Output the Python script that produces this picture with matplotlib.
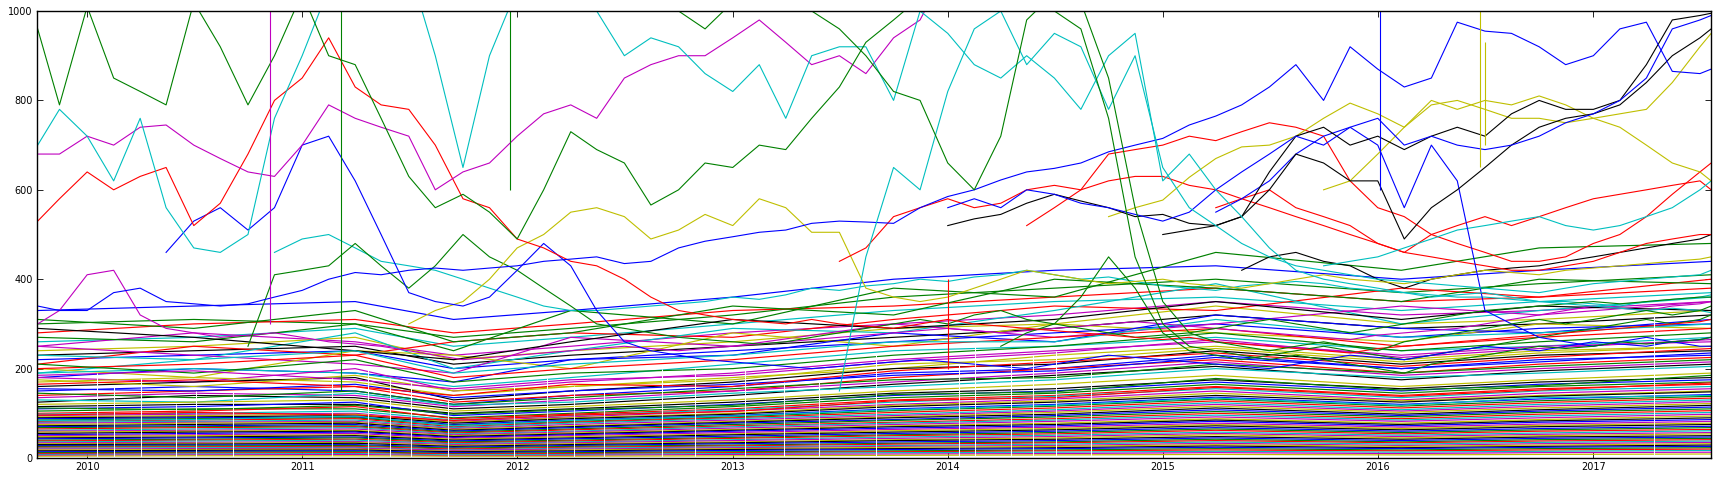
import numpy as np
import pandas as pd
import matplotlib
matplotlib.use("Agg")
import matplotlib.pyplot as plt
import matplotlib.dates as mdates

nan = np.nan

# knots every ~6 weeks for the prominent (high priced) series
grid_dates = pd.to_datetime(
    ["2009-10-09", "2009-11-15"]
    + [f"{y}-{md}" for y in range(2010, 2018)
       for md in ("01-01", "02-15", "04-01", "05-15", "07-01", "08-15", "10-01", "11-15")][:61]
    + ["2017-07-20"])

green_a = [960, 790, 1010, 850, 820, 790, 1020, 920,
           790, 900, 1040, 900, 880, 760, 630, 560,
           590, 550, 490, 600, 730, 690, 660, 566,
           600, 660, 650, 700, 690, 760, 830, 930,
           980, 1030, 1050, 1050, 1040, 1020, 1000, 960,
           760, 450, 300, 250, 240, 230, 220, 230,
           220, 210, 200, 190, 210, 220, 230, 240,
           250, 245, 250, 260, 255, 260, 265, 270]
green_w = [nan, nan, nan, nan, nan, nan, nan, nan,
           250, 410, 420, 430, 480, 430, 380, 430,
           500, 450, 420, 380, 340, 300, 290, 280,
           270, 265, 260, 255, 260, 270, 280, 290,
           300, 310, 300, 320, 330, 310, 300, 290,
           280, 270, 275, 280, 290, 300, 310, 300,
           290, 280, 290, 300, 310, 320, 330, 335,
           340, 345, 350, 345, 350, 355, 360, 360]
green_c = [nan] * 16 + [1100, 1100, 1100, 1100, 1100, 1100, 1080, 1050,
                        1000, 960, 1020, 1080, 1060, 1000, 960, 900,
                        820, 800, 660, 600, 720, 980, 1040, 1020,
                        850, 560, 350, 280, 260, 250, 240, 250,
                        260, 250, 240, 260, 270, 280, 290, 300,
                        310, 300, 310, 320, 330, 320, 330, 340]
green_d = [nan] * 36 + [250, 280, 300, 360, 450, 380, 280, 240,
                        230, 220, 230, 240, 250, 240, 230, 220,
                        230, 240, 250, 260, 270, 280, 290, 300,
                        310, 300, 310, 320]
cyan_a = [700, 780, 720, 620, 760, 560, 470, 460,
          500, 760, 900, 1050, 1100, 1100, 1100, 900,
          650, 900, 1050, 1100, 1100, 1000, 900, 940,
          920, 860, 820, 880, 760, 900, 920, 920,
          800, 1000, 950, 880, 850, 900, 850, 780,
          900, 950, 620, 680, 600, 540, 470, 420,
          400, 390, 380, 370, 360, 365, 370, 360,
          350, 345, 340, 335, 330, 335, 330, 325]
cyan_b = [nan] * 30 + [150, 450, 650, 600, 820, 960, 1000, 880,
                       950, 920, 780, 900, 650, 560, 520, 480,
                       450, 430, 420, 410, 400, 395, 390, 385,
                       380, 375, 370, 380, 390, 395, 400, 405,
                       410, 420]
cyan_c = [nan] * 9 + [460, 490, 500, 470, 440, 430, 420,
                      400, 380, 360, 340, 330, 330, 335, 340,
                      345, 350, 360, 355, 365, 380, 375, 385,
                      390, 400, 395, 405, 410, 420, 410, 400,
                      405, 395, 385, 380, 375, 385, 390, 395,
                      390, 380, 375, 370, 365, 360, 360, 355,
                      350, 350, 345, 340, 350, 355, 360, 365]
cyan_d = [nan] * 48 + [430, 440, 450, 470, 490, 510, 520, 530,
                       540, 520, 510, 520, 540, 560, 600, 620]
red_a = [530, 580, 640, 600, 630, 650, 520, 570,
         680, 800, 850, 940, 830, 790, 780, 700,
         580, 560, 490, 470, 440, 430, 400, 360,
         330, 320, 310, 305, 300, 310, 300, 295,
         290, 300, 310, 300, 295, 290, 285, 280,
         275, 270, 265, 270, 260, 255, 250, 245,
         240, 235, 245, 250, 255, 260, 265, 270,
         275, 280, 285, 290, 295, 300, 305, 310]
red_b = [nan] * 37 + [520, 560, 600, 680, 690, 700, 720, 710,
                      730, 750, 740, 720, 620, 560, 540, 500,
                      480, 460, 440, 440, 450, 480, 500, 540,
                      590, 640, 660]
red_c = [nan] * 30 + [440, 470, 540, 560, 580, 560, 570, 600,
                      610, 600, 620, 630, 630, 610, 600, 580,
                      560, 540, 520, 500, 480, 460, 450, 440,
                      430, 420, 420, 430, 440, 460, 480, 490,
                      500, 500]
red_d = [nan] * 44 + [560, 580, 600, 560, 540, 520, 480, 460,
                      500, 520, 540, 520, 540, 560, 580, 590,
                      600, 610, 620, 600]
magenta_a = [680, 680, 720, 700, 740, 745, 700, 670,
             640, 630, 700, 790, 760, 740, 720, 600,
             640, 660, 720, 770, 790, 760, 850, 880,
             900, 900, 940, 980, 930, 880, 900, 860,
             940, 980, 1100] + [1200] * 29
magenta_b = [300, 330, 410, 420, 320, 290, 280, 270,
             275, 280, 270, 260, 255, 250, 240, 230,
             220, 225, 230, 235, 240, 245, 250, 245,
             240, 245, 250, 255, 260, 265, 270, 275,
             280, 285, 290, 285, 280, 285, 290, 295,
             300, 305, 300, 295, 290, 285, 280, 275,
             270, 265, 275, 280, 285, 290, 300, 310,
             320, 330, 340, 335, 330, 340, 345, 350]
blue_a = [nan, nan, nan, nan, nan, 460, 530, 560,
          510, 560, 700, 720, 620, 500, 370, 350,
          340, 360, 420, 480, 430, 330, 260, 240,
          230, 220, 215, 210, 205, 200, 205, 210,
          215, 220, 215, 210, 205, 200, 210, 220,
          230, 225, 220, 215, 210, 205, 200, 210,
          220, 230, 225, 220, 230, 240, 250, 245,
          240, 250, 260, 255, 250, 260, 265, 270]
blue_top = [340, 330, 330, 370, 380, 350, 345, 340,
            345, 360, 375, 400, 415, 410, 420, 425,
            420, 425, 430, 440, 445, 450, 435, 440,
            470, 485, 495, 505, 510, 525, 530, 528,
            525, 560, 585, 600, 622, 640, 648, 660,
            685, 700, 715, 745, 765, 790, 830, 880,
            800, 920, 870, 830, 850, 975, 955, 950,
            920, 880, 900, 960, 975, 865, 860, 870]
blue_b = [nan] * 34 + [560, 580, 560, 600, 590, 570, 560, 545,
                       530, 550, 600, 640, 680, 720, 700, 740,
                       760, 700, 720, 700, 690, 700, 720, 750,
                       770, 800, 850, 960, 980, 990]
blue_c = [nan] * 44 + [550, 580, 620, 680, 720, 740, 700, 560,
                       700, 620, 330, 300, 270, 260, 250, 260,
                       270, 260, 250, 250]
black_a = [nan] * 34 + [520, 535, 545, 570, 590, 575, 560, 540,
                        545, 525, 520, 540, 640, 720, 740, 700,
                        720, 690, 720, 740, 720, 770, 800, 780,
                        780, 800, 880, 980, 990, 995]
black_b = [nan] * 42 + [500, 510, 520, 540, 600, 680, 660, 620,
                        620, 490, 560, 600, 650, 700, 740, 760,
                        770, 790, 840, 900, 940, 960]
black_c = [nan] * 45 + [420, 450, 460, 440, 430, 400, 380, 400,
                        410, 420, 425, 430, 440, 450, 460, 470,
                        480, 490, 500]
yellow_mid = [nan] * 14 + [300, 330, 350, 400, 470, 500, 550, 560,
                           540, 490, 510, 545, 520, 580, 560, 505,
                           505, 380, 360, 350, 360, 380, 400, 420,
                           410, 400, 390, 395, 400, 390, 385, 380,
                           390, 400, 410, 400, 395, 390, 400, 410,
                           420, 415, 410, 420, 425, 430, 435, 440,
                           445, 450]
yellow_b = [nan] * 40 + [540, 560, 577, 628, 670, 696, 700, 720,
                         760, 794, 770, 740, 800, 780, 800, 790,
                         810, 790, 760, 740, 700, 660, 640, 620]
yellow_c = [nan] * 48 + [600, 620, 680, 740, 790, 800, 780, 760,
                         760, 750, 760, 770, 780, 840, 920, 950]

# sparse knots for the crowded low priced series
knot_dates = pd.to_datetime([
    "2009-10-09", "2010-07-01", "2011-04-01", "2011-09-15", "2012-04-01", "2013-01-01",
    "2013-10-01", "2014-07-01", "2015-04-01", "2016-02-10", "2016-10-01", "2017-07-20"])

band_upper = [
    [330, 340, 350, 310, 330, 360, 400, 420, 430, 400, 420, 440],
    [300, 310, 300, 270, 290, 320, 360, 380, 400, 370, 390, 410],
    [280, 300, 310, 280, 300, 330, 340, 360, 380, 350, 360, 380],
    [260, 270, 290, 250, 270, 300, 330, 350, 360, 330, 350, 370],
    [250, 280, 260, 230, 250, 280, 300, 320, 350, 320, 330, 350],
    [240, 250, 270, 220, 240, 260, 290, 300, 340, 300, 310, 330],
    [230, 240, 250, 210, 230, 250, 270, 290, 320, 290, 300, 320],
    [220, 230, 240, 200, 220, 240, 260, 280, 300, 270, 290, 300],
    [270, 260, 300, 240, 330, 300, 380, 360, 460, 420, 470, 480],
    [210, 250, 230, 260, 280, 270, 310, 340, 330, 380, 360, 400],
    [190, 220, 280, 200, 240, 290, 280, 330, 390, 300, 330, 360],
    [250, 230, 210, 190, 270, 250, 300, 270, 300, 340, 320, 350],
    [200, 180, 240, 230, 200, 280, 250, 300, 280, 260, 300, 290],
    [290, 270, 240, 220, 260, 310, 290, 310, 350, 310, 340, 330],
    [180, 200, 190, 170, 220, 230, 280, 260, 320, 290, 280, 310],
    [310, 290, 330, 260, 280, 340, 320, 400, 380, 350, 400, 390],
]
band_hi = [
    [200, 210, 230, 180, 200, 220, 250, 270, 290, 250, 270, 290],
    [190, 200, 190, 160, 180, 210, 240, 250, 270, 240, 250, 270],
    [180, 170, 200, 150, 170, 190, 220, 240, 260, 230, 250, 260],
    [170, 180, 170, 140, 160, 180, 200, 230, 250, 220, 240, 250],
    [160, 170, 180, 130, 150, 170, 200, 210, 240, 210, 230, 240],
    [150, 160, 150, 120, 140, 160, 190, 200, 230, 200, 220, 230],
    [210, 190, 220, 170, 190, 200, 230, 250, 280, 240, 260, 280],
    [140, 150, 160, 125, 140, 150, 180, 200, 220, 190, 210, 225],
    [230, 220, 240, 190, 210, 230, 260, 260, 310, 270, 280, 300],
    [135, 145, 140, 115, 130, 150, 170, 190, 215, 185, 200, 215],
    [175, 160, 185, 150, 160, 175, 210, 220, 245, 215, 235, 250],
    [125, 140, 135, 110, 120, 140, 165, 185, 205, 175, 195, 210],
    [155, 150, 165, 135, 150, 165, 185, 195, 225, 200, 215, 235],
    [145, 135, 150, 120, 135, 155, 175, 180, 210, 190, 205, 220],
    [165, 175, 160, 140, 165, 160, 195, 215, 235, 205, 225, 245],
    [130, 125, 145, 118, 125, 145, 160, 175, 200, 180, 190, 205],
    [185, 195, 175, 155, 175, 185, 215, 235, 265, 225, 245, 265],
]
band_mid = [
    [120, 125, 130, 105, 115, 130, 150, 165, 185, 160, 175, 190],
    [115, 120, 120, 100, 110, 125, 145, 155, 175, 155, 170, 180],
    [110, 115, 125, 95, 105, 120, 140, 150, 170, 150, 165, 175],
    [105, 110, 110, 90, 100, 115, 135, 145, 165, 145, 160, 170],
    [100, 105, 115, 88, 98, 110, 130, 140, 160, 140, 155, 165],
    [98, 100, 105, 85, 95, 108, 125, 138, 155, 135, 150, 160],
    [95, 98, 100, 82, 92, 105, 120, 132, 150, 130, 145, 155],
    [92, 95, 98, 80, 90, 100, 118, 128, 145, 128, 140, 150],
    [90, 92, 95, 78, 88, 98, 115, 125, 140, 125, 138, 148],
    [88, 90, 92, 75, 85, 95, 110, 120, 136, 120, 132, 142],
    [85, 88, 90, 73, 82, 92, 106, 116, 132, 116, 128, 138],
    [82, 85, 88, 70, 80, 90, 102, 112, 128, 112, 124, 134],
    [80, 82, 85, 68, 78, 88, 98, 108, 124, 108, 120, 130],
    [78, 80, 82, 66, 75, 85, 95, 105, 120, 105, 116, 126],
    [75, 78, 80, 64, 72, 82, 92, 102, 116, 102, 112, 122],
    [72, 75, 78, 62, 70, 80, 90, 98, 112, 98, 108, 118],
    [70, 72, 75, 60, 68, 78, 86, 95, 108, 95, 105, 114],
    [68, 70, 72, 58, 65, 75, 84, 92, 104, 92, 102, 110],
    [65, 68, 70, 56, 63, 72, 80, 88, 100, 88, 98, 106],
    [62, 65, 68, 54, 60, 70, 78, 85, 96, 85, 94, 102],
    [60, 62, 65, 52, 58, 67, 75, 82, 92, 82, 90, 98],
    [58, 60, 62, 50, 56, 64, 72, 78, 88, 78, 86, 94],
    [55, 58, 60, 48, 54, 62, 70, 75, 85, 75, 83, 90],
    [52, 55, 58, 46, 52, 60, 67, 72, 82, 72, 80, 86],
    [112, 108, 118, 98, 108, 118, 142, 148, 178, 152, 162, 185],
    [96, 102, 96, 84, 96, 104, 128, 135, 158, 138, 152, 168],
    [84, 86, 94, 72, 84, 94, 108, 118, 134, 118, 135, 140],
]
band_lo = [
    [50, 52, 55, 44, 50, 57, 64, 69, 78, 69, 76, 82],
    [48, 50, 52, 42, 48, 54, 61, 66, 75, 66, 73, 78],
    [45, 47, 50, 40, 45, 52, 58, 63, 72, 63, 70, 75],
    [43, 45, 47, 38, 43, 49, 55, 60, 68, 60, 66, 71],
    [40, 42, 45, 36, 40, 46, 52, 57, 65, 57, 63, 68],
    [38, 40, 42, 34, 38, 44, 50, 54, 62, 54, 60, 64],
    [36, 38, 40, 32, 36, 41, 47, 51, 58, 51, 56, 61],
    [34, 35, 37, 30, 34, 39, 44, 48, 55, 48, 53, 57],
    [32, 33, 35, 28, 32, 36, 41, 45, 52, 45, 50, 54],
    [30, 31, 33, 26, 30, 34, 39, 42, 48, 42, 47, 50],
    [28, 29, 30, 24, 28, 32, 36, 39, 45, 39, 44, 47],
    [26, 27, 28, 22, 26, 29, 33, 36, 42, 36, 41, 44],
    [24, 25, 26, 20, 24, 27, 31, 34, 39, 34, 38, 41],
    [22, 23, 24, 18, 22, 25, 28, 31, 36, 31, 35, 38],
    [20, 21, 22, 17, 20, 23, 26, 28, 33, 28, 32, 35],
    [18, 19, 20, 15, 18, 21, 24, 26, 30, 26, 29, 32],
    [16, 17, 18, 14, 16, 19, 21, 23, 27, 23, 26, 29],
    [14, 15, 16, 12, 14, 17, 19, 21, 24, 21, 24, 26],
    [12, 13, 14, 10, 12, 14, 16, 18, 21, 18, 21, 23],
    [10, 11, 12, 9, 10, 12, 14, 16, 18, 16, 18, 20],
    [8, 9, 10, 7, 8, 10, 12, 13, 15, 13, 15, 17],
    [6, 7, 8, 5, 6, 8, 9, 10, 12, 10, 12, 13],
    [4, 5, 5, 4, 4, 5, 6, 7, 8, 7, 8, 9],
]

# one-day spikes (date, low, high)
spike_dates = pd.to_datetime(["2010-11-08", "2011-03-08", "2011-12-20", "2014-01-02",
                              "2016-01-04", "2016-06-23", "2016-07-01"])
spike_low = [300, 150, 600, 200, 600, 650, 700]
spike_high = [1000, 1000, 1000, 400, 1000, 1000, 930]
spike_colors = ["m", "g", "g", "r", "b", "y", "y"]

# market holidays: all series are missing, leaving white gaps in the crowd
gap_dates = pd.to_datetime([
    "2010-01-18", "2010-02-15", "2010-04-02", "2010-05-31", "2010-07-05", "2010-09-06",
    "2011-02-21", "2011-04-22", "2011-05-30", "2011-07-04", "2011-09-05", "2011-12-26",
    "2012-02-20", "2012-04-06", "2012-05-28", "2012-09-03", "2012-10-29", "2013-01-21",
    "2013-03-29", "2013-05-27", "2013-09-02", "2014-01-20", "2014-02-17", "2014-04-18",
    "2014-05-26", "2014-07-04", "2014-09-01", "2017-04-14"])
gap_tops = [190, 160, 180, 120, 150, 150, 180, 200, 180, 170, 130, 160,
            180, 160, 150, 200, 200, 200, 170, 170, 230, 210, 250, 210,
            230, 240, 200, 320]

cycle = ["b", "g", "r", "c", "m", "y", "k"]

fig = plt.figure(figsize=(17.17, 4.79), dpi=100, facecolor="white")
ax = fig.add_axes([0.0216, 0.0438, 0.975, 0.9332])

i = 0
for group in (band_upper, band_hi, band_mid, band_lo):
    for row in group:
        ax.plot(knot_dates, row, color=cycle[i % 7], lw=0.85)
        i += 1

prominent = [
    (magenta_b, "m"), (cyan_c, "c"), (green_w, "g"), (green_d, "g"),
    (black_c, "k"), (red_d, "r"), (yellow_mid, "y"), (blue_a, "b"),
    (red_a, "r"), (red_c, "r"), (red_b, "r"), (cyan_d, "c"),
    (yellow_b, "y"), (yellow_c, "y"), (blue_c, "b"),
    (black_a, "k"), (black_b, "k"), (blue_b, "b"), (blue_top, "b"),
    (magenta_a, "m"), (cyan_a, "c"), (cyan_b, "c"), (green_c, "g"), (green_a, "g"),
]
for vals, col in prominent:
    ax.plot(grid_dates, vals, color=col, lw=0.8)

ax.vlines(spike_dates, spike_low, spike_high, colors=spike_colors, lw=0.8)
ax.vlines(gap_dates, 0, gap_tops, colors="white", lw=0.7)

ax.set_xlim(pd.Timestamp("2009-10-08"), pd.Timestamp("2017-07-20"))
ax.set_ylim(0, 1000)
ax.set_yticks([0, 200, 400, 600, 800, 1000])
ax.xaxis.set_major_locator(mdates.YearLocator())
ax.xaxis.set_major_formatter(mdates.DateFormatter("%Y"))
ax.tick_params(direction="in", length=4, width=0.6, top=True, right=True,
               labelsize=7, pad=3)
for s in ax.spines.values():
    s.set_linewidth(1.0)

fig.savefig("out.png", dpi=100, facecolor="white")
